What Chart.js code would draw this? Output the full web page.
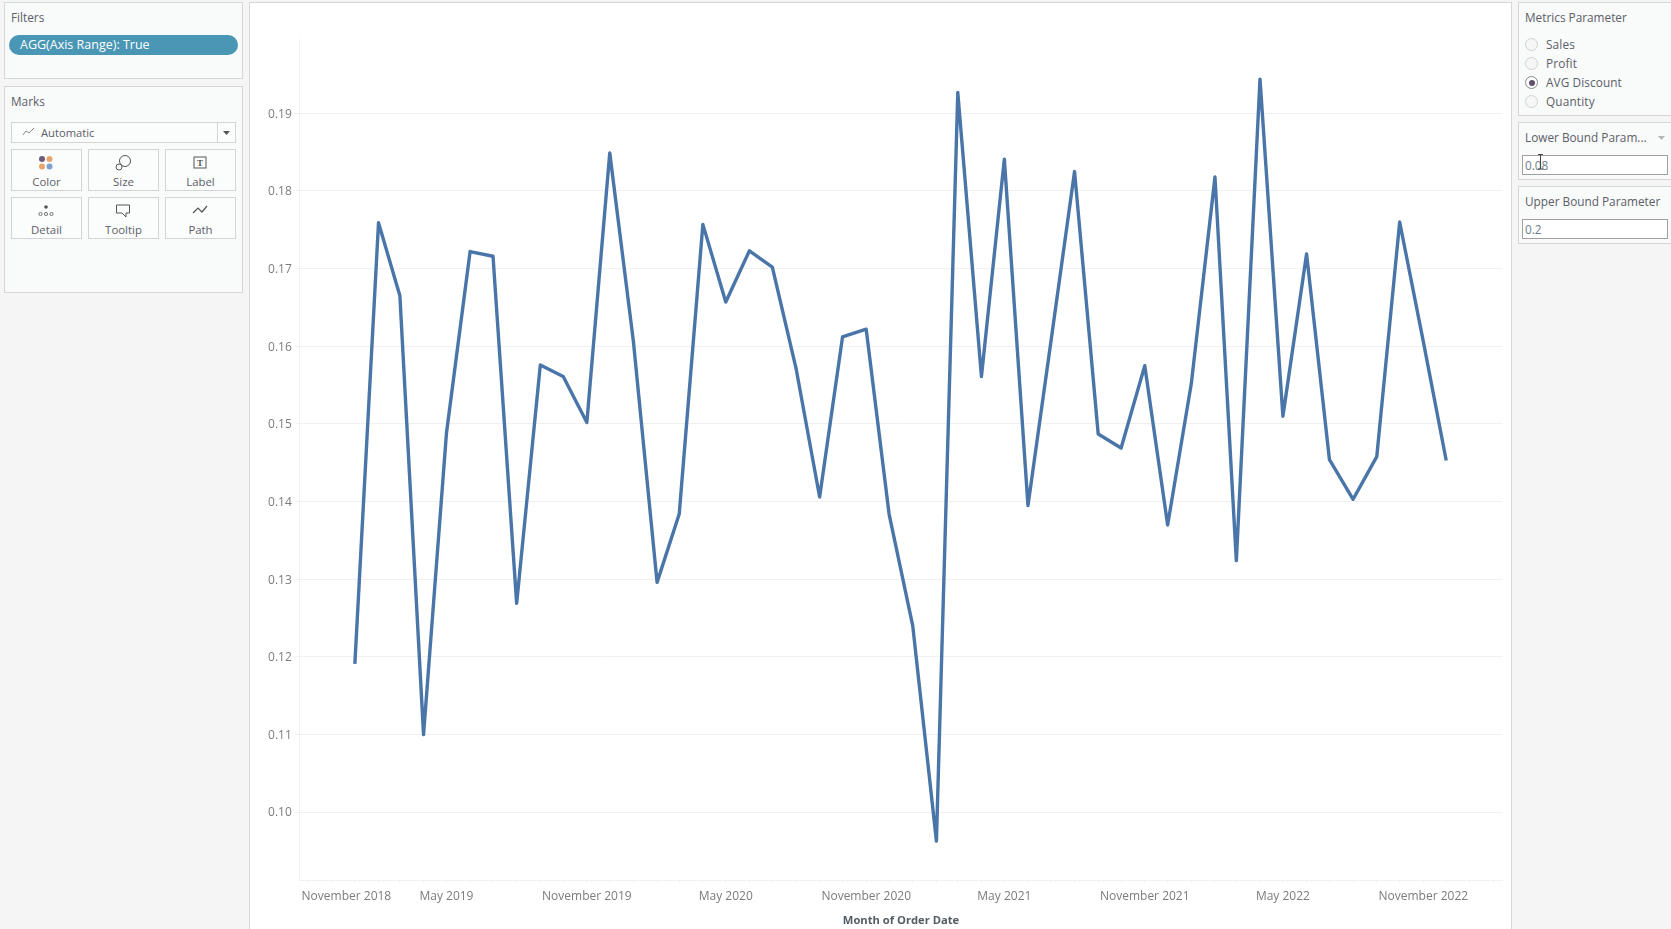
<!DOCTYPE html>
<html>
<head>
<meta charset="utf-8">
<script src="https://cdn.jsdelivr.net/npm/chart.js@4/dist/chart.umd.min.js"></script>
<style>
html,body{margin:0;padding:0;width:1671px;height:929px;overflow:hidden;background:#f5f5f5;font-family:"Open Sans",sans-serif;font-size:11.8px;color:#5b6068}
.p{position:absolute;box-sizing:border-box;background:#f9fafa;border:1px solid #d6d6d6}
.t{position:absolute;white-space:nowrap;line-height:16px}
.b{position:absolute;box-sizing:border-box;background:#fbfcfc;border:1px solid #d4d4d4}
.b span{position:absolute;left:0;right:0;text-align:center;bottom:0;line-height:16px;font-size:11.4px}
.b svg{position:absolute;left:50%;top:5px;margin-left:-11px}
.inp{position:absolute;box-sizing:border-box;background:#fff;border:1px solid #a0a0a0;left:1522px;width:146px;height:20px;line-height:18px;padding-left:2px;color:#6b7c90}
.r{position:absolute;box-sizing:border-box;left:1525px;width:13px;height:13px;border-radius:50%;background:#f6f6f6;border:1px solid #d2d2d2}
#sheet{position:absolute;left:249px;top:2px;width:1263px;height:930px;box-sizing:border-box;background:#fff;border:1px solid #d6d6d6}
#wrap{position:absolute;left:250px;top:3px;width:1261px;height:926px}
</style>
</head>
<body>
<div class="p" style="left:4px;top:2px;width:239px;height:77px"></div>
<div class="t" style="left:11px;top:9px">Filters</div>
<div class="t" style="left:9px;top:35px;width:229px;height:20px;line-height:20px;background:#4a96b5;border-radius:10px;color:#fff;text-indent:11px;font-size:12.5px">AGG(Axis Range): True</div>

<div class="p" style="left:4px;top:86px;width:239px;height:207px"></div>
<div class="t" style="left:11px;top:93px">Marks</div>
<div class="b" style="left:11px;top:122px;width:225px;height:21px"></div>
<div class="b" style="left:217px;top:122px;width:19px;height:21px"></div>
<svg style="position:absolute;left:22px;top:126px" width="14" height="12"><polyline points="1,9 4,5 7,7 12,2" fill="none" stroke="#8a8a8a" stroke-width="1"/></svg>
<div class="t" style="left:41px;top:125px;font-size:11.200px">Automatic</div>
<svg style="position:absolute;left:222px;top:130px" width="9" height="6"><path d="M1 1H8L4.5 5Z" fill="#555"/></svg>

<div class="b" style="left:11px;top:149px;width:71px;height:42px"><svg width="20" height="20"><circle cx="6" cy="4" r="3" fill="#6f5a78"/><circle cx="13.500" cy="4" r="3" fill="#e6a56c"/><circle cx="6" cy="11.500" r="3" fill="#e6a56c"/><circle cx="13.500" cy="11.500" r="3" fill="#7f9fce"/></svg><span>Color</span></div>
<div class="b" style="left:88px;top:149px;width:71px;height:42px"><svg width="20" height="20"><circle cx="6" cy="12" r="3" fill="none" stroke="#555"/><circle cx="12" cy="6" r="5.500" fill="none" stroke="#555"/></svg><span>Size</span></div>
<div class="b" style="left:165px;top:149px;width:71px;height:42px"><svg width="20" height="20"><rect x="4" y="2" width="12" height="11" fill="none" stroke="#555"/><text x="10" y="11" text-anchor="middle" font-size="9" font-family="Liberation Serif" font-weight="bold" fill="#555">T</text></svg><span>Label</span></div>
<div class="b" style="left:11px;top:197px;width:71px;height:42px"><svg width="20" height="20"><circle cx="10" cy="4" r="1.800" fill="#555"/><circle cx="4.500" cy="11" r="1.600" fill="none" stroke="#555" stroke-width=".8"/><circle cx="10" cy="11" r="1.600" fill="none" stroke="#555" stroke-width=".8"/><circle cx="15.500" cy="11" r="1.600" fill="none" stroke="#555" stroke-width=".8"/></svg><span>Detail</span></div>
<div class="b" style="left:88px;top:197px;width:71px;height:42px"><svg width="20" height="20"><path d="M3.500 2H16.500V10H13V14L9 10H3.500Z" fill="none" stroke="#555"/></svg><span>Tooltip</span></div>
<div class="b" style="left:165px;top:197px;width:71px;height:42px"><svg width="20" height="20"><polyline points="3,10 8,5 12,9 17,3" fill="none" stroke="#555" stroke-width="1.200"/></svg><span>Path</span></div>

<div id="sheet"></div>
<div id="wrap"><canvas id="c"></canvas></div>

<div class="p" style="left:1518px;top:2px;width:160px;height:114px"></div>
<div class="t" style="left:1525px;top:9px">Metrics Parameter</div>
<div class="r" style="top:38px"></div><div class="t" style="left:1546px;top:36px;letter-spacing:.15px">Sales</div>
<div class="r" style="top:57px"></div><div class="t" style="left:1546px;top:55px;letter-spacing:.15px">Profit</div>
<div class="r" style="top:76px;border-color:#888;background:#fff"><div style="position:absolute;left:2.500px;top:2.500px;width:6px;height:6px;border-radius:50%;background:#5f5068"></div></div><div class="t" style="left:1546px;top:74px;letter-spacing:.1px">AVG Discount</div>
<div class="r" style="top:95px"></div><div class="t" style="left:1546px;top:93px;letter-spacing:.15px">Quantity</div>

<div class="p" style="left:1518px;top:122px;width:160px;height:58px"></div>
<div class="t" style="left:1525px;top:129px">Lower Bound Param...</div>
<svg style="position:absolute;left:1657px;top:135px" width="9" height="6"><path d="M1 1H8L4.500 5Z" fill="#b5b5b5"/></svg>
<div class="inp" style="top:155px">0.08</div>
<svg style="position:absolute;left:1537px;top:154px" width="7" height="16"><path d="M1 .5H6M3.500 .5V15M1 15H6" fill="none" stroke="#444" stroke-width="1"/></svg>

<div class="p" style="left:1518px;top:186px;width:160px;height:58px"></div>
<div class="t" style="left:1525px;top:193px">Upper Bound Parameter</div>
<div class="inp" style="top:219px">0.2</div>

<script>
// Months are counted from November 2018 = 0; the axis is proportional to days, as a date axis is.
const firstDataMonth = 2; // January 2019
const avgDiscount = [
 0.1191,0.1759,0.1665,0.1100,0.1488,0.1722,0.1716,0.1269,0.1576,0.1561,0.1502,0.1849,
 0.1606,0.1296,0.1384,0.1757,0.1657,0.1723,0.1702,0.1572,0.1406,0.1612,0.1622,0.1384,
 0.1240,0.0963,0.1927,0.1561,0.1841,0.1395,0.1606,0.1825,0.1487,0.1469,0.1575,0.1370,
 0.1552,0.1818,0.1324,0.1944,0.1510,0.1719,0.1454,0.1403,0.1458,0.1760,0.1606,0.1453];
const xTickLabels = ['November 2018','May 2019','November 2019','May 2020','November 2020','May 2021','November 2021','May 2022','November 2022'];
const xTickMonths = [0,6,12,18,24,30,36,42,48];
const lastTickMonth = 51;
const yTickValues = [0.10,0.11,0.12,0.13,0.14,0.15,0.16,0.17,0.18,0.19];
const xMin = -11.8, xMax = 1565, yMin = 0.09128, yMax = 0.19953;
const labelAnchor = xMin + 3; // first label sits at the left of the axis

const dayOf = m => (Date.UTC(2018,10+m,1)-Date.UTC(2018,10,1))/86400000;
const points = avgDiscount.map((v,i)=>({x:dayOf(i+firstDataMonth),y:v}));
const monthTicks = [labelAnchor];
for(let m=0;m<=lastTickMonth;m++) monthTicks.push(dayOf(m));
const majorDays = xTickMonths.map(dayOf);

const axisGrey = '#f0f0f0';
const tickFont = {family:'"Open Sans"',size:12};

new Chart(document.getElementById('c'),{
  type:'line',
  data:{datasets:[{data:points,borderColor:'#4a75a8',borderWidth:3.4,pointRadius:0,tension:0,fill:false,borderJoinStyle:'round',borderCapStyle:'butt'}]},
  options:{
    responsive:true,maintainAspectRatio:false,animation:false,
    layout:{padding:{top:36.3,right:8.3,left:0,bottom:0}},
    plugins:{legend:{display:false},tooltip:{enabled:false},title:{display:false}},
    scales:{
      x:{type:'linear',min:xMin,max:xMax,
        afterBuildTicks:s=>{s.ticks=monthTicks.map(v=>({value:v}));},
        afterFit:s=>{s.height=49;},
        grid:{drawOnChartArea:false,drawTicks:true,tickLength:3,tickWidth:1,
          tickColor:c=>c.index===0?'rgba(0,0,0,0)':axisGrey},
        border:{display:true,color:axisGrey,width:1},
        ticks:{autoSkip:false,maxRotation:0,minRotation:0,align:'inner',padding:6,color:'#7b7b7b',font:tickFont,
          callback:v=>{
            if(v===labelAnchor) return xTickLabels[0];
            const i=majorDays.indexOf(v);
            return i>0?xTickLabels[i]:'';
          }},
        title:{display:true,text:'Month of Order Date',color:'#555b63',font:{family:'"Open Sans"',size:11.2,weight:'bold'},padding:{top:0,bottom:1}}
      },
      y:{type:'linear',min:yMin,max:yMax,
        afterBuildTicks:s=>{s.ticks=yTickValues.map(v=>({value:v}));},
        afterFit:s=>{s.width=49.3;},
        grid:{color:axisGrey,tickColor:axisGrey,tickLength:4,lineWidth:1},
        border:{display:true,color:axisGrey,width:1},
        ticks:{padding:3.5,labelOffset:0.8,color:'#7b7b7b',font:tickFont,callback:v=>v.toFixed(2)}
      }
    }
  }
});
</script>
</body>
</html>
